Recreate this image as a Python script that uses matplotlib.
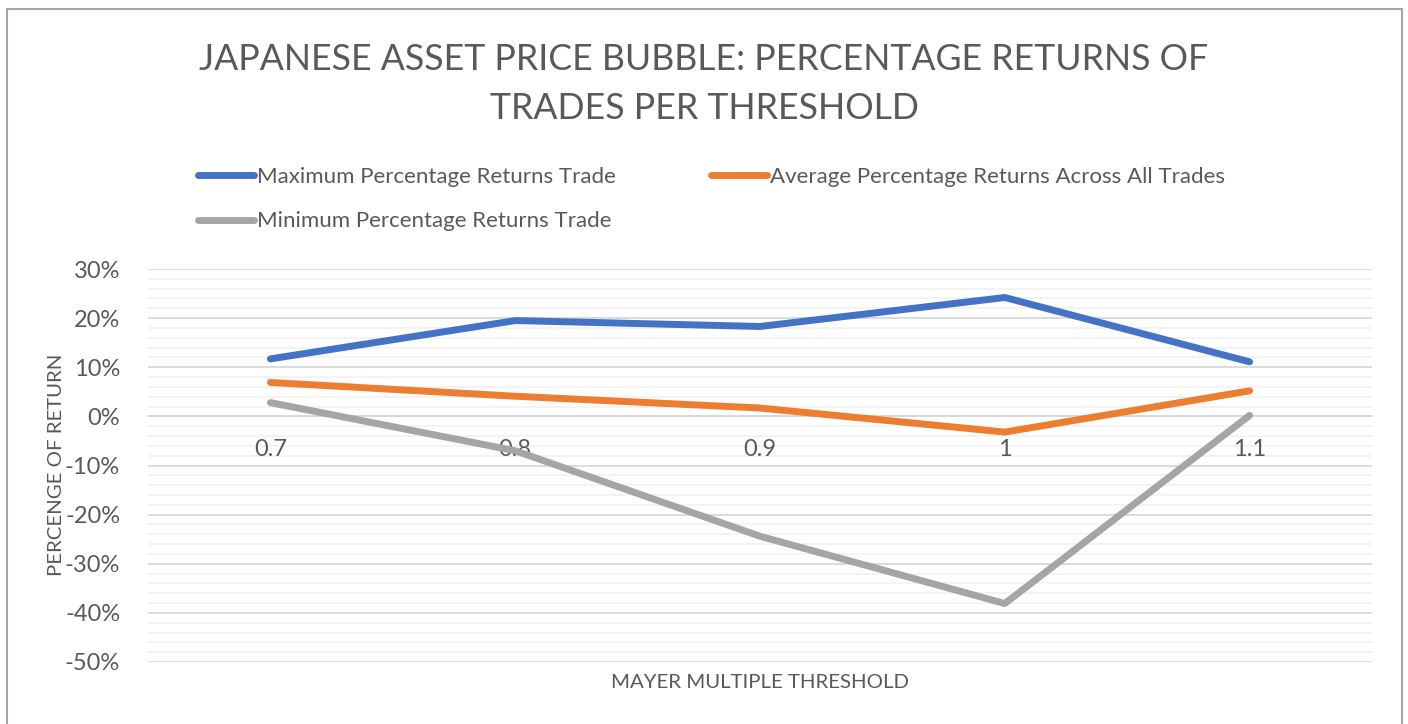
import matplotlib.pyplot as plt
from matplotlib.patches import Rectangle
from matplotlib.ticker import MultipleLocator, FuncFormatter

# dados
limiares = ["0.7", "0.8", "0.9", "1", "1.1"]
retorno_max = [11.7, 19.5, 18.3, 24.2, 11.1]
retorno_medio = [6.9, 4.1, 1.7, -3.2, 5.2]
retorno_min = [2.8, -7.0, -24.4, -38.1, 0.2]

AZUL = "#4472C4"
LARANJA = "#ED7D31"
CINZA = "#A5A5A5"
TEXTO = "#595959"

plt.rcParams['font.family'] = ['Lato', 'DejaVu Sans']

fig = plt.figure(figsize=(14.08, 7.24), dpi=100)
ax = fig.add_axes([148 / 1408, 1 - 662 / 724, (1372 - 148) / 1408, (662 - 269) / 724])

x = list(range(len(limiares)))
l1, = ax.plot(x, [v / 100 for v in retorno_max], color=AZUL, lw=5, solid_capstyle='round',
              solid_joinstyle='round', label="Maximum Percentage Returns Trade", zorder=3)
l2, = ax.plot(x, [v / 100 for v in retorno_medio], color=LARANJA, lw=5, solid_capstyle='round',
              solid_joinstyle='round', label="Average Percentage Returns Across All Trades", zorder=3)
l3, = ax.plot(x, [v / 100 for v in retorno_min], color=CINZA, lw=5, solid_capstyle='round',
              solid_joinstyle='round', label="Minimum Percentage Returns Trade", zorder=3)

ax.set_xlim(-0.5, len(limiares) - 0.5)
ax.set_ylim(-0.5, 0.3)
ax.yaxis.set_major_locator(MultipleLocator(0.1))
ax.yaxis.set_minor_locator(MultipleLocator(0.02))
ax.yaxis.set_major_formatter(FuncFormatter(lambda v, p: f"{v * 100:.0f}%"))
ax.grid(True, axis='y', which='major', color='#D9D9D9', lw=1.3, zorder=0)
ax.grid(True, axis='y', which='minor', color='#F2F2F2', lw=1.3, zorder=0)
ax.set_axisbelow(True)
# rotulos do eixo x por cima das linhas de grade
ax.xaxis.set_zorder(1)

for lado in ['top', 'right', 'left']:
    ax.spines[lado].set_visible(False)
ax.spines['bottom'].set_position(('data', 0))
ax.spines['bottom'].set_color('#D9D9D9')
ax.spines['bottom'].set_linewidth(1.3)

ax.set_xticks(x)
ax.set_xticklabels(limiares)
ax.tick_params(axis='x', length=0, pad=16, labelsize=17, labelcolor=TEXTO)
ax.tick_params(axis='y', which='both', length=0, pad=20, labelsize=17, labelcolor=TEXTO)

fig.text(760 / 1408, 1 - 683 / 724, "MAYER MULTIPLE THRESHOLD", ha='center', va='center',
         fontsize=14.7, color=TEXTO)
fig.text(57 / 1408, 1 - 465 / 724, "PERCENGE OF RETURN", ha='center', va='center',
         rotation=90, fontsize=14.7, color=TEXTO)

fig.text(704 / 1408, 1 - 84 / 724, "JAPANESE ASSET PRICE BUBBLE: PERCENTAGE RETURNS OF\nTRADES PER THRESHOLD",
         ha='center', va='center', fontsize=25.7, color=TEXTO, linespacing=1.6)

leg = fig.legend(handles=[l1, l3, l2], ncol=2, loc='upper left',
                 bbox_to_anchor=(178 / 1408, 1 - 147 / 724), frameon=False,
                 fontsize=16, handlelength=2.5, handletextpad=0.15, columnspacing=4.3,
                 labelspacing=1.1, labelcolor=TEXTO)

fig.patches.append(Rectangle((7 / 1408, -0.01), (1402 - 7) / 1408, 1.01 - 9 / 724,
                             transform=fig.transFigure, fill=False, edgecolor='#A6A6A6', lw=1.5))

fig.savefig("out.png", dpi=100)
